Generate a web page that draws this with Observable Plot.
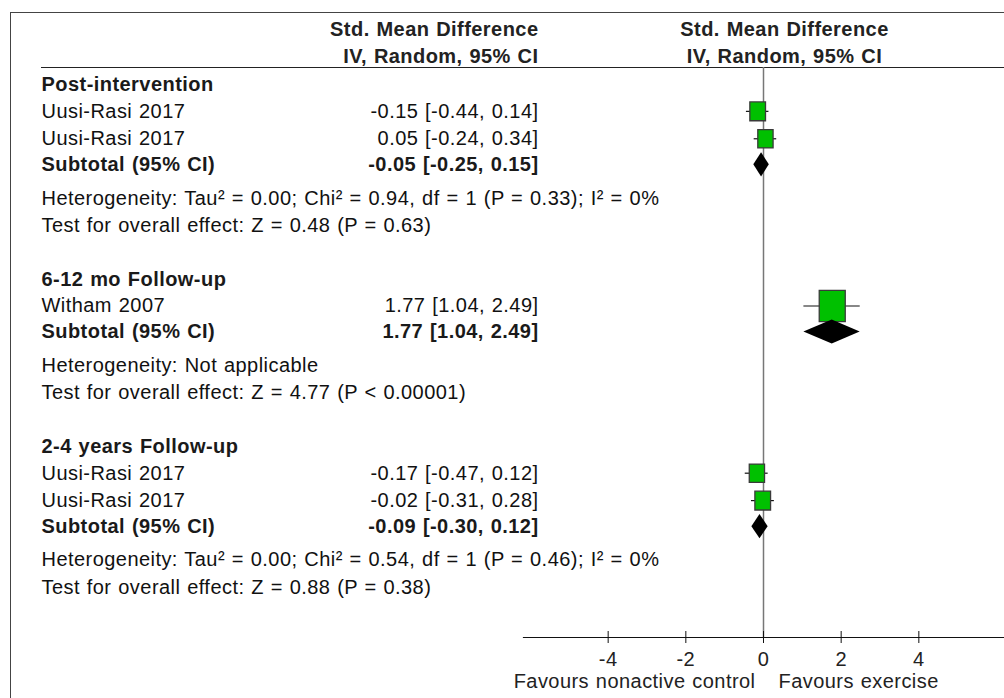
<!DOCTYPE html>
<html>
<head>
<meta charset="utf-8">
<script src="https://cdn.jsdelivr.net/npm/d3@7"></script>
<script src="https://cdn.jsdelivr.net/npm/@observablehq/plot@0.6"></script>
<style>
  html, body { margin: 0; padding: 0; background: #fff; }
  #wrap { position: relative; width: 1004px; height: 698px; overflow: hidden; background: #fff; }
  #box { position: absolute; left: 10px; top: 12px; width: 1100px; height: 800px; border: 1.5px solid #444; box-sizing: border-box; }
  #hline { position: absolute; left: 41px; top: 66.5px; width: 1000px; border-top: 1.2px solid #222; }
  #chart { position: absolute; left: 0; top: 0; }
  #chart svg text { letter-spacing: 0.45px; word-spacing: 0.8px; }
</style>
</head>
<body>
<div id="wrap">
  <div id="box"></div>
  <div id="hline"></div>
  <div id="chart"></div>
</div>
<script>
// ---- data ----
const groups = ["Post-intervention", "6-12 mo Follow-up", "2-4 years Follow-up"];
const studyGroup = [0, 0, 1, 2, 2];
const studyNames = ["Uusi-Rasi 2017", "Uusi-Rasi 2017", "Witham 2007", "Uusi-Rasi 2017", "Uusi-Rasi 2017"];
const studyEst = [-0.15, 0.05, 1.77, -0.17, -0.02];
const studyLo = [-0.44, -0.24, 1.04, -0.47, -0.31];
const studyHi = [0.14, 0.34, 2.49, 0.12, 0.28];
const studyWeight = [50.9, 49.1, 100, 49.0, 51.0];
const subLabel = "Subtotal (95% CI)";
const subEst = [-0.05, 1.77, -0.09];
const subLo = [-0.25, 1.04, -0.30];
const subHi = [0.15, 2.49, 0.12];
const hetText = [
  "Heterogeneity: Tau² = 0.00; Chi² = 0.94, df = 1 (P = 0.33); I² = 0%",
  "Heterogeneity: Not applicable",
  "Heterogeneity: Tau² = 0.00; Chi² = 0.54, df = 1 (P = 0.46); I² = 0%"
];
const testText = [
  "Test for overall effect: Z = 0.48 (P = 0.63)",
  "Test for overall effect: Z = 4.77 (P < 0.00001)",
  "Test for overall effect: Z = 0.88 (P = 0.38)"
];
const headerLines = ["Std. Mean Difference", "IV, Random, 95% CI"];
const xTicks = [-4, -2, 0, 2, 4];
const favourLeft = "Favours nonactive control";
const favourRight = "Favours exercise";

// ---- build rows (vertical spacing in row units, by row kind) ----
const gap = {header: 0.98, study: 1.0, subtotal: 0.95, het: 1.22, test: 1.0, next: 1.95};
const fmt = v => v.toFixed(2);
const rows = [];
let pos = 0;
groups.forEach((g, gi) => {
  if (gi > 0) pos += gap.next;
  rows.push({kind: "header", label: g, pos});
  let first = true;
  studyNames.forEach((s, i) => {
    if (studyGroup[i] !== gi) return;
    pos += first ? gap.header : gap.study;
    first = false;
    rows.push({kind: "study", label: s, est: studyEst[i], lo: studyLo[i], hi: studyHi[i], w: studyWeight[i],
      value: `${fmt(studyEst[i])} [${fmt(studyLo[i])}, ${fmt(studyHi[i])}]`, pos});
  });
  pos += gap.subtotal;
  rows.push({kind: "subtotal", label: subLabel, est: subEst[gi], lo: subLo[gi], hi: subHi[gi],
    value: `${fmt(subEst[gi])} [${fmt(subLo[gi])}, ${fmt(subHi[gi])}]`, pos});
  pos += gap.het;
  rows.push({kind: "het", label: hetText[gi], pos});
  pos += gap.test;
  rows.push({kind: "test", label: testText[gi], pos});
});

const isBold = d => d.kind === "header" || d.kind === "subtotal";
const boldRows = rows.filter(isBold);
const plainRows = rows.filter(d => !isBold(d));
const studies = rows.filter(d => d.kind === "study");
const subs = rows.filter(d => d.kind === "subtotal");
const dh = 0.44;
const diamonds = subs.flatMap((d, i) => [
  {z: i, x: d.lo, y1: d.pos, y2: d.pos},
  {z: i, x: d.est, y1: d.pos - dh, y2: d.pos + dh},
  {z: i, x: d.hi, y1: d.pos, y2: d.pos}
]);

const tallSquare = {
  draw(ctx, size) {
    const r = Math.sqrt(size / Math.PI);
    const w = 1.7 * r, h = 2.04 * r;
    ctx.moveTo(-w / 2, -h / 2);
    ctx.lineTo(w / 2, -h / 2);
    ctx.lineTo(w / 2, h / 2);
    ctx.lineTo(-w / 2, h / 2);
    ctx.closePath();
  }
};

const FS = 20;
const ink = "#111";

const chart = Plot.plot({
  width: 1004,
  height: 698,
  marginLeft: 523,
  marginRight: 1,
  marginTop: 67,
  marginBottom: 61,
  style: {fontFamily: "'Liberation Sans', Arial, Helvetica, sans-serif", background: "transparent", overflow: "visible"},
  x: {domain: [-6.18, 6.18], label: null},
  y: {domain: d3.extent(rows, d => d.pos), range: [84, 587], axis: null},
  r: {type: "linear", domain: [0, 100], range: [2.9, 15.3]},
  marks: [
    // header texts
    Plot.text([headerLines[0]], {frameAnchor: "top-left", lineAnchor: "middle", dx: 15, dy: -38, textAnchor: "end", fontWeight: "bold", fontSize: FS, fill: "#222"}),
    Plot.text([headerLines[1]], {frameAnchor: "top-left", lineAnchor: "middle", dx: 15, dy: -11, textAnchor: "end", fontWeight: "bold", fontSize: FS, fill: "#222"}),
    Plot.text([headerLines[0]], {frameAnchor: "top", lineAnchor: "middle", dx: 21, dy: -38, textAnchor: "middle", fontWeight: "bold", fontSize: FS, fill: "#222"}),
    Plot.text([headerLines[1]], {frameAnchor: "top", lineAnchor: "middle", dx: 21, dy: -11, textAnchor: "middle", fontWeight: "bold", fontSize: FS, fill: "#222"}),
    // left labels
    Plot.text(plainRows, {y: "pos", text: "label", frameAnchor: "left", lineAnchor: "middle", dx: -482, textAnchor: "start", fontSize: FS, fill: ink}),
    Plot.text(boldRows, {y: "pos", text: "label", frameAnchor: "left", lineAnchor: "middle", dx: -482, textAnchor: "start", fontSize: FS, fontWeight: "bold", fill: "#1a1a1a"}),
    // values
    Plot.text(studies, {y: "pos", text: "value", frameAnchor: "left", lineAnchor: "middle", dx: 15, textAnchor: "end", fontSize: FS, fill: ink}),
    Plot.text(subs, {y: "pos", text: "value", frameAnchor: "left", lineAnchor: "middle", dx: 15, textAnchor: "end", fontSize: FS, fontWeight: "bold", fill: "#1a1a1a"}),
    // zero line
    Plot.ruleX([0], {stroke: "#777", strokeWidth: 1.5}),
    // axis line, ticks and labels
    Plot.frame({anchor: "bottom", stroke: "#111", strokeWidth: 1.2}),
    Plot.axisX({ticks: xTicks, tickSize: 12, dy: -6, tickFormat: () => "", stroke: "#111", label: null}),
    Plot.axisX({ticks: xTicks, tickSize: 0, tickPadding: 14, tickFormat: d => String(d), fontSize: FS, fill: "#222", label: null}),
    Plot.text([favourLeft], {frameAnchor: "bottom", lineAnchor: "middle", dx: -8, dy: 44, textAnchor: "end", fontSize: FS, fill: "#222"}),
    Plot.text([favourRight], {frameAnchor: "bottom", lineAnchor: "middle", dx: 15, dy: 44, textAnchor: "start", fontSize: FS, fill: "#222"}),
    // confidence intervals
    Plot.ruleY(studies, {y: "pos", x1: "lo", x2: "hi", stroke: "#111", strokeWidth: 1.2}),
    // study squares
    Plot.dot(studies, {x: "est", y: "pos", r: "w", symbol: tallSquare, fill: "#00c000", stroke: "#3a3a3a", strokeWidth: 1.3}),
    // subtotal diamonds
    Plot.areaY(diamonds, {x: "x", y1: "y1", y2: "y2", z: "z", fill: "#000", curve: "linear"})
  ]
});
document.getElementById("chart").appendChild(chart);
</script>
</body>
</html>
